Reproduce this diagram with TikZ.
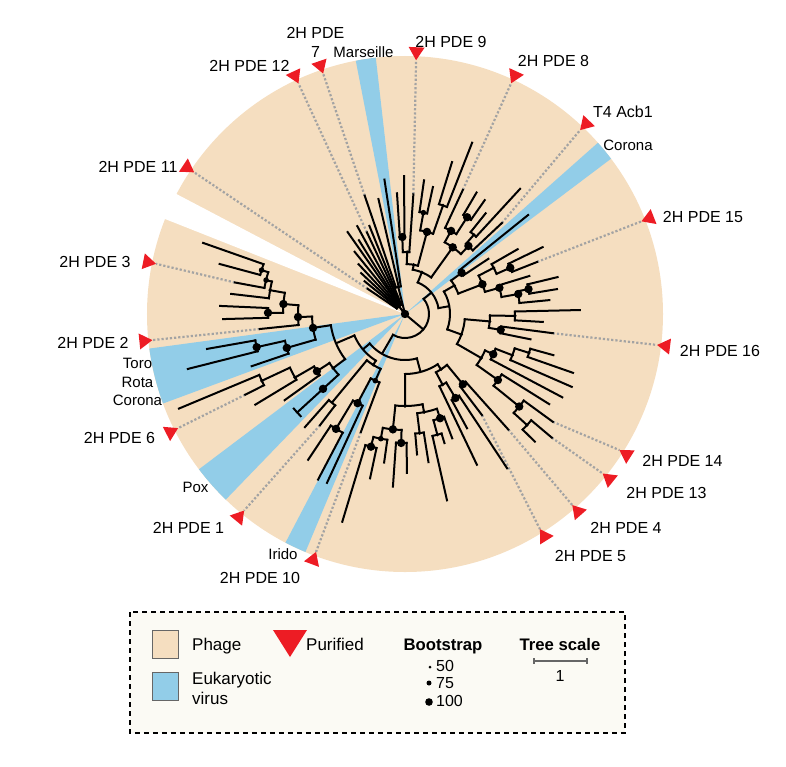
\documentclass[tikz,border=0pt]{standalone}
\usepackage{fontspec}
\setmainfont{Liberation Sans}
\definecolor{phage}{HTML}{F5DEC0}
\definecolor{euk}{HTML}{92CDE8}
\definecolor{pdered}{HTML}{ED1C24}
\definecolor{dotgray}{HTML}{A3A3A3}
\definecolor{legendbg}{HTML}{FBFAF4}
\begin{document}
\begin{tikzpicture}[x=1pt,y=1pt,
  branch/.style={line width=2pt, line cap=rect},
  dotline/.style={draw=dotgray, line width=2.2pt, dash pattern=on 2.2pt off 2pt},
  lbl/.style={font=\fontsize{16}{19}\selectfont, inner sep=0pt},
  vlbl/.style={font=\fontsize{15}{18.5}\selectfont, inner sep=0pt},
  leg/.style={font=\fontsize{17}{20}\selectfont, inner sep=0pt},
  legb/.style={font=\fontsize{16.7}{20}\selectfont\bfseries, inner sep=0pt},
  num/.style={font=\fontsize{16}{19}\selectfont, inner sep=0pt}]
\useasboundingbox (-405,-452) rectangle (381,314);
\fill[phage] (0,0) circle (258);
\foreach \fa/\fb in {96.5/101,37/41.6,187.7/200.3,217/226,242.4/247.3}
  \fill[euk] (0,0) -- (\fa:258) arc (\fa:\fb:258) -- cycle;
\fill[white] (0,0) -- (152.3:262) arc (152.3:158.4:262) -- cycle;
\foreach \nm/\ang/\rr/\pa in {9/446/120/87.5, 8/425/137/65.3, t4/403.2/133/46.4, 15/381.5/142/21.4,
    16/352.6/149/-7, 14/323.9/183/-32.4, 13/319.9/192/-38.9, 4/311.8/155/-48.8, 5/307.3/127/-57.9,
    10/249.5/126/249.5, 1/232.6/140/230.7, 6/206.8/179/206.7, 2/185.9/146/185.9, 3/169.5/173/168.6,
    11/146/45/146.1, 12/115/90/114.8, 7/108.8/125/108.8}{
  \coordinate (tri\nm) at (\pa:254);
  \draw[dotline] (\ang:\rr) -- (tri\nm);
  \fill[pdered, rotate=\pa] (254,0) -- (267,8) -- (267,-8) -- cycle;
}
\foreach \ang/\rin/\rout/\fa/\fb in {
  320/0/24/240/399, 240/24/46/220/285, 399/24/34/370/428,
  220/46/55/203/238, 203/55/75/188.6/217, 188.6/75/93/181.6/196, 181.6/93/107/175.3/185.9,
  175.3/107/122/170/179.5, 170/122/137/166.3/173.4, 166.3/137/143/163/169.5, 163/143/150/160.6/164.9,
  179.5/122/137/177.5/181.6, 196/93/123/192.6/198.8, 192.6/123/152/190/194.2,
  217/75/90/213/222.4, 213/90/105/210/215.6, 210/105/127/205/211.2, 205/127/158/202.7/206.8,
  238/55/60/230.5/246, 230.5/60/115/228.5/232.6, 246/60/73/242/249.5, 242/73/101/239/245.2, 239/101/134/236.4/242.3,
  285/46/60/270/303, 270/60/92/264/281, 264/92/116/259/268.3, 259/116/127/255.6/262, 255.6/127/137/253.2/258,
  268.3/116/129/266/270.7, 281/92/100/277/288.6, 277/100/120/274.9/279, 288.6/100/110/285/290.8, 285/110/125/282.7/287,
  303/60/66/298/309.5, 298/66/80/295.5/301, 301/80/98/298.5/303.5, 309.5/66/91/307.3/311.8,
  370/34/45/340/390, 340/45/60/330/355, 330/60/88/324.6/335.5, 335.5/88/97/332.1/339, 339/97/115/336.4/342.6,
  342.6/115/130/340.7/344.5, 324.6/88/114/321/328, 321/114/147/317.7/323.9, 317.7/147/165/315.5/319.9,
  355/60/85/350.6/359, 350.6/85/97/348.6/352.6, 359/85/110/356.7/361.3,
  390/45/57/381/396, 381/57/83/375.5/387.5, 375.5/83/98/370/377, 370/98/115/365.5/371.4, 371.4/115/126/369.3/373.6,
  387.5/83/100/383.7/389.9, 383.7/100/115/381.5/385.9, 396/57/70/393.5/398.8,
  428/34/45/414.4/440, 440/45/50/435/448, 448/50/62/446/452, 452/62/77/450.4/453.8, 435/50/85/430.7/439.7,
  430.7/85/115/428.6/432.8, 439.7/85/103/437.6/441.9, 414.4/45/82/407/421, 421/82/95/417.3/425,
  417.3/95/115/415/419.5, 407/82/93/403.2/409, 409/93/105/407.4/411.3,
  116/0/4/104/128, 104/4/28/98.7/108.8, 128/4/10/112/146}
  \draw[branch] (\ang:\rin) -- (\ang:\rout) (\fa:\rout) arc (\fa:\fb:\rout);
\foreach \ang/\rin/\rout in {
  160.6/150/214, 164.9/150/192, 169.5/143/173, 173.4/137/175, 177.5/137/185, 181.6/137/182, 185.9/107/146,
  190/152/201, 194.2/152/224, 198.8/123/162, 202.7/158/245, 206.8/158/179, 211.2/127/175, 215.6/105/148,
  222.4/90/146, 228.5/115/151, 232.6/115/140, 236.4/134/175, 242.3/134/187, 245.2/101/186, 249.5/73/126,
  253.2/137/217, 258/137/168, 262/127/150, 266/129/173, 270.7/129/159, 274.9/120/141, 279/120/150,
  282.7/125/191, 287/125/135, 290.8/110/133, 295.5/80/167, 298.5/98/130, 303.5/98/185, 307.3/91/127, 311.8/91/155,
  315.5/165/182, 319.9/165/192, 323.9/147/183, 328/114/170, 332.1/97/178, 336.4/115/182, 340.7/130/178,
  344.5/130/154, 348.6/97/128, 352.6/97/149, 356.7/110/138, 361.3/110/175, 365.5/115/145, 369.3/126/154,
  373.6/126/157, 377/98/130, 381.5/115/142, 385.9/115/153, 389.9/100/130, 393.5/70/100, 398.8/70/158,
  403.2/93/133, 407.4/105/170, 411.3/105/129, 415/115/139, 419.5/115/141, 425/95/137, 428.6/115/184,
  432.8/115/159, 437.6/103/130, 441.9/103/135, 446/62/120, 450.4/77/138, 453.8/77/121,
  98.7/28/136, 103/28/118, 108.8/28/125, 112/10/95, 115/10/90, 118.5/10/100, 122/10/87, 125/10/100,
  129/10/80, 133/10/68, 137/10/60, 141/10/52, 146/10/45}
  \draw[branch] (\ang:\rin) -- (\ang:\rout);
\draw[branch] (220.4:146) arc (220.4:224.4:146);
\foreach \ang/\rr/\sz in {
  163/150/2.8, 166.3/143/2.8, 170/137/1.8, 175.3/122/4.2, 179.5/137/4.2, 181.6/107/4.2, 188.6/93/4.2,
  192.6/152/4.2, 196/123/4.2, 205/158/1.8, 210/127/1.8, 213/105/4.2, 217/90/1.8, 222.4/111/4.2,
  238/60/1.8, 242/101/4.2, 239/134/4.2, 246/73/2.8,
  255.6/137/4.2, 259/127/2.8, 264/116/4.2, 268.3/129/4.2, 270/92/1.8, 277/120/1.8, 281/100/1.8,
  285/125/1.8, 288.6/110/4.2, 298/80/1.8, 301/98/4.2, 303/66/1.8, 309.5/91/4.2,
  317.7/165/1.8, 321/147/4.2, 324.6/114/4.2, 330/88/1.8, 335.5/97/4.2, 339/115/1.8, 342.6/130/1.8,
  350.6/97/4.2, 355/85/1.8, 359/110/1.8, 340/60/1.8, 370/115/4.2, 371.4/126/4.2, 375.5/98/4.2,
  381/83/4.2, 383.7/115/4.2, 387.5/100/1.8, 390/57/1.8, 396/70/4.2,
  452/77/4.2, 448/62/1.8, 440/50/1.8, 435/85/4.2, 439.7/103/2.8, 430.7/115/1.8, 417.3/115/4.2,
  421/95/4.2, 414.4/82/4.2, 407/93/4.2, 409/105/1.8, 428/45/1.8, 104/28/1.8, 0/0/4.2}
  \fill (\ang:\rr) circle (\sz);
\node[lbl] (l12) at (-155.5,248) {2H PDE 12};
\node[lbl, align=center] (l7) at (-89.5,271.5) {2H PDE\\7};
\node[vlbl] (lmars) at (-41.5,262) {Marseille};
\node[lbl] (l9) at (46,272.5) {2H PDE 9};
\node[lbl] (l8) at (148.5,253) {2H PDE 8};
\node[lbl] (lt4) at (218,202) {T4 Acb1};
\node[vlbl] (lcor) at (223,169) {Corona};
\node[lbl] (l15) at (298,97) {2H PDE 15};
\node[lbl] (l16) at (315,-37) {2H PDE 16};
\node[lbl] (l14) at (277.5,-147) {2H PDE 14};
\node[lbl] (l13) at (261.5,-179) {2H PDE 13};
\node[lbl] (l4) at (221,-214) {2H PDE 4};
\node[lbl] (l5) at (185.5,-242) {2H PDE 5};
\node[lbl] (l10) at (-145,-264) {2H PDE 10};
\node[vlbl] (lirido) at (-122,-240) {Irido};
\node[lbl] (l1) at (-216.5,-214) {2H PDE 1};
\node[vlbl] (lpox) at (-209.5,-173) {Pox};
\node[lbl] (l6) at (-285.5,-124) {2H PDE 6};
\node[vlbl, align=center] (ltrc) at (-267.5,-68) {Toro\\Rota\\Corona};
\node[lbl] (l2) at (-312,-29) {2H PDE 2};
\node[lbl] (l3) at (-310,52) {2H PDE 3};
\node[lbl] (l11) at (-267,147) {2H PDE 11};
\draw[fill=legendbg, line width=1.5pt, dash pattern=on 5pt off 4pt] (-275,-298) rectangle (220,-419);
\draw[fill=phage, draw=black!60, line width=0.8pt] (-253,-316) rectangle (-227,-344);
\draw[fill=euk, draw=black!60, line width=0.8pt] (-253,-358) rectangle (-227,-386);
\node[leg, anchor=base west] (lphage) at (-213,-336) {Phage};
\node[leg, anchor=base west] (leuk) at (-213,-370) {Eukaryotic};
\node[leg, anchor=base west] (lvirus) at (-213,-390) {virus};
\fill[pdered] (-132,-316) -- (-98,-316) -- (-115,-343) -- cycle;
\node[leg, anchor=base west] (lpur) at (-99,-336) {Purified};
\node[legb, anchor=base] (lboot) at (38,-336) {Bootstrap};
\fill (25,-353) circle (1.5);
\fill (24,-369) circle (2.5);
\fill (24,-388) circle (3.8);
\node[num, anchor=base west] (n50) at (31,-357) {50};
\node[num, anchor=base west] (n75) at (31,-374) {75};
\node[num, anchor=base west] (n100) at (31,-392) {100};
\node[legb, anchor=base] (lscale) at (155,-336) {Tree scale};
\draw[black!60, line width=2pt] (129,-344) -- (129,-350) (129,-347) -- (182,-347) (182,-344) -- (182,-350);
\node[num, anchor=base] (lone) at (155,-367) {1};
\end{tikzpicture}
\end{document}
